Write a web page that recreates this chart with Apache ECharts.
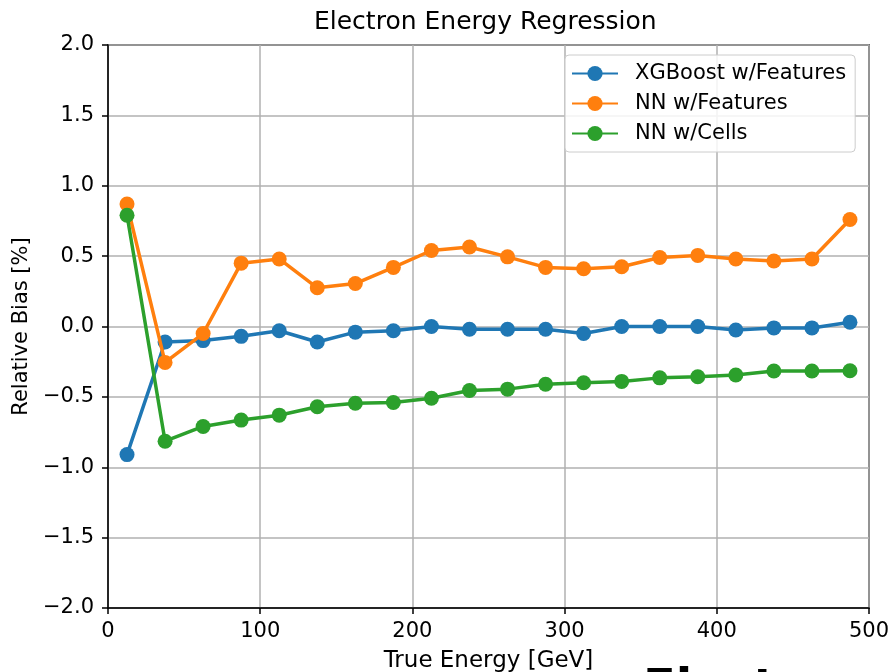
<!DOCTYPE html>
<html>
<head>
<meta charset="utf-8">
<script src="https://cdn.jsdelivr.net/npm/echarts@6/dist/echarts.min.js"></script>
<style>
html,body{margin:0;padding:0;background:#fff;overflow:hidden;}
#chart{width:889px;height:672px;}
</style>
</head>
<body>
<div id="chart"></div>
<script>
var energies = [12.5, 37.5, 62.5, 87.5, 112.5, 137.5, 162.5, 187.5, 212.5, 237.5, 262.5, 287.5, 312.5, 337.5, 362.5, 387.5, 412.5, 437.5, 462.5, 487.5];
var xgbFeatures = [-0.91, -0.11, -0.10, -0.07, -0.03, -0.11, -0.04, -0.03, 0.00, -0.02, -0.02, -0.02, -0.05, 0.00, 0.00, 0.00, -0.025, -0.01, -0.01, 0.03];
var nnFeatures = [0.87, -0.255, -0.05, 0.45, 0.48, 0.275, 0.305, 0.42, 0.54, 0.565, 0.495, 0.42, 0.41, 0.425, 0.49, 0.505, 0.48, 0.465, 0.48, 0.76];
var nnCells = [0.79, -0.815, -0.71, -0.665, -0.63, -0.57, -0.545, -0.54, -0.51, -0.455, -0.445, -0.41, -0.40, -0.39, -0.365, -0.357, -0.345, -0.316, -0.316, -0.314];
var seriesNames = ['XGBoost w/Features', 'NN w/Features', 'NN w/Cells'];
var seriesColors = ['#1f77b4', '#ff7f0e', '#2ca02c'];
var titleText = 'Electron Energy Regression';
var xName = 'True Energy [GeV]';
var yName = 'Relative Bias [%]';
var footerText = 'Electron';

function pairs(xs, ys) { return xs.map(function (x, i) { return [x, ys[i]]; }); }
var values = [xgbFeatures, nnFeatures, nnCells];
var FONT = '"DejaVu Sans", sans-serif';

var chart = echarts.init(document.getElementById('chart'), null, {renderer: 'canvas'});
chart.setOption({
  animation: false,
  backgroundColor: '#ffffff',
  title: {
    text: titleText, left: 314, top: 10, padding: 0,
    textStyle: {fontFamily: FONT, fontSize: 25, fontWeight: 'normal', color: '#000'}
  },
  grid: {left: 108, right: 20, top: 45, bottom: 64, containLabel: false, outerBoundsMode: 'none',
    show: true, borderColor: '#000', borderWidth: 1.5, backgroundColor: 'transparent'},
  legend: {
    orient: 'vertical', left: 565, top: 55,
    padding: [8, 9, 8, 6], itemGap: 9, itemWidth: 46, itemHeight: 19,
    backgroundColor: 'rgba(255,255,255,0.85)', borderColor: '#cccccc', borderWidth: 1, borderRadius: 4,
    textStyle: {fontFamily: FONT, fontSize: 21, color: '#000', padding: [0, 0, 0, 12], lineHeight: 21},
    data: seriesNames
  },
  xAxis: {
    type: 'value', min: 0, max: 500, interval: 100,
    name: xName, nameLocation: 'middle', nameGap: 42,
    nameTextStyle: {fontFamily: FONT, fontSize: 23, color: '#000', verticalAlign: 'top'},
    axisLine: {show: true, onZero: false, lineStyle: {color: '#000', width: 1.5}},
    axisTick: {show: true, inside: false, length: 6, lineStyle: {color: '#000', width: 1.5}},
    axisLabel: {fontFamily: FONT, fontSize: 21, color: '#000', margin: 13},
    splitLine: {show: true, lineStyle: {color: '#b0b0b0', width: 1.5}}
  },
  yAxis: {
    type: 'value', min: -2, max: 2, interval: 0.5,
    name: yName, nameLocation: 'middle', nameGap: 70, nameRotate: 90,
    nameTextStyle: {fontFamily: FONT, fontSize: 21, color: '#000'},
    axisLine: {show: true, onZero: false, lineStyle: {color: '#000', width: 1.5}},
    axisTick: {show: true, inside: false, length: 6, lineStyle: {color: '#000', width: 1.5}},
    axisLabel: {fontFamily: FONT, fontSize: 21, color: '#000', margin: 14,
      formatter: function (v) { return v.toFixed(1).replace('-', '\u2212'); }},
    splitLine: {show: true, lineStyle: {color: '#b0b0b0', width: 1.5}}
  },
  series: seriesNames.map(function (name, i) {
    return {
      name: name, type: 'line', data: pairs(energies, values[i]),
      symbol: 'circle', symbolSize: 15, showSymbol: true,
      lineStyle: {color: seriesColors[i], width: 3.5},
      itemStyle: {color: seriesColors[i], borderWidth: 0},
      z: 2 + i
    };
  }),
  graphic: [{
    type: 'text', left: 643, top: 667,
    style: {text: footerText, fontFamily: FONT, fontSize: 48, fontWeight: 'bold', fill: '#000'}
  }]
});
</script>
</body>
</html>
